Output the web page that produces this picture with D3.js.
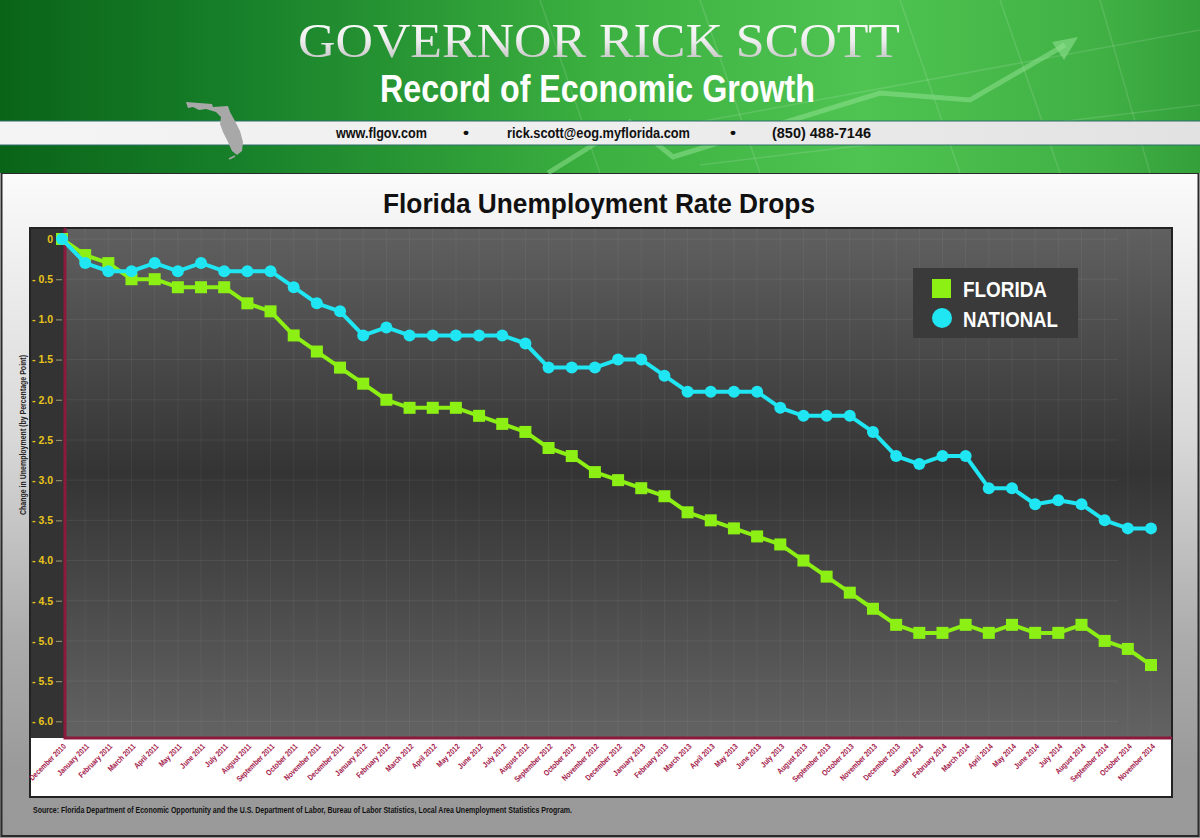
<!DOCTYPE html>
<html>
<head>
<meta charset="utf-8">
<script src="https://cdn.jsdelivr.net/npm/d3@7"></script>
<style>
  body { margin: 0; background: #fff; }
  svg { display: block; }
  .narrow { font-family: "Liberation Sans", Arial, sans-serif; font-weight: bold; }
</style>
</head>
<body>
<div id="chart"></div>
<script>
// month labels, Dec 2010 .. Nov 2014
const months = [
  "December 2010",
  "January 2011", "February 2011", "March 2011", "April 2011", "May 2011", "June 2011",
  "July 2011", "August 2011", "September 2011", "October 2011", "November 2011", "December 2011",
  "January 2012", "February 2012", "March 2012", "April 2012", "May 2012", "June 2012",
  "July 2012", "August 2012", "September 2012", "October 2012", "November 2012", "December 2012",
  "January 2013", "February 2013", "March 2013", "April 2013", "May 2013", "June 2013",
  "July 2013", "August 2013", "September 2013", "October 2013", "November 2013", "December 2013",
  "January 2014", "February 2014", "March 2014", "April 2014", "May 2014", "June 2014",
  "July 2014", "August 2014", "September 2014", "October 2014", "November 2014"
];

// change in unemployment rate since Dec 2010 (percentage points)
const florida = [
  0,
  -0.2, -0.3, -0.5, -0.5, -0.6, -0.6, -0.6, -0.8, -0.9, -1.2, -1.4, -1.6,
  -1.8, -2.0, -2.1, -2.1, -2.1, -2.2, -2.3, -2.4, -2.6, -2.7, -2.9, -3.0,
  -3.1, -3.2, -3.4, -3.5, -3.6, -3.7, -3.8, -4.0, -4.2, -4.4, -4.6, -4.8,
  -4.9, -4.9, -4.8, -4.9, -4.8, -4.9, -4.9, -4.8, -5.0, -5.1, -5.3
];

const national = [
  0,
  -0.3, -0.4, -0.4, -0.3, -0.4, -0.3, -0.4, -0.4, -0.4, -0.6, -0.8, -0.9,
  -1.2, -1.1, -1.2, -1.2, -1.2, -1.2, -1.2, -1.3, -1.6, -1.6, -1.6, -1.5,
  -1.5, -1.7, -1.9, -1.9, -1.9, -1.9, -2.1, -2.2, -2.2, -2.2, -2.4, -2.7,
  -2.8, -2.7, -2.7, -3.1, -3.1, -3.3, -3.25, -3.3, -3.5, -3.6, -3.6
];

const yTicks = [0, -0.5, -1.0, -1.5, -2.0, -2.5, -3.0, -3.5, -4.0, -4.5, -5.0, -5.5, -6.0];

const seriesNames = ["FLORIDA", "NATIONAL"];
const seriesColors = ["#8cf014", "#1fe6f2"];

const width = 1200, height = 838;

const svg = d3.select("#chart")
  .append("svg")
  .attr("width", width)
  .attr("height", height);

const defs = svg.append("defs");

function gradient(id, stops, vertical) {
  const g = defs.append("linearGradient")
    .attr("id", id)
    .attr("x1", 0).attr("y1", 0)
    .attr("x2", vertical ? 0 : 1).attr("y2", vertical ? 1 : 0);
  stops.forEach(s => g.append("stop").attr("offset", s[0]).attr("stop-color", s[1]));
}

// no condensed face installed, so squeeze text to the width it has in the picture
function fit(sel, len) {
  return sel.attr("textLength", len).attr("lengthAdjust", "spacingAndGlyphs");
}

gradient("headerGrad", [[0, "#0a6418"], [0.2, "#17802a"], [0.5, "#3cb040"], [0.72, "#4fc452"], [0.92, "#40b044"], [1, "#33a03a"]]);
gradient("bandGrad", [[0, "#f4f4f4"], [0.5, "#eeeeee"], [1, "#e2e2e2"]]);
gradient("pageGrad", [[0, "#fbfbfb"], [0.12, "#f0f0f0"], [0.4, "#d8d8d8"], [0.7, "#acacac"], [0.9, "#9a9a9a"], [1, "#999"]], true);
gradient("plotGrad", [[0, "#606060"], [0.48, "#343434"], [1, "#636363"]], true);
gradient("govGrad", [[0, "#ffffff"], [0.5, "#eeeeee"], [1, "#b5b5b5"]], true);

// ---- page background ----
svg.append("rect")
  .attr("x", 0).attr("y", 173)
  .attr("width", width).attr("height", height - 173)
  .attr("fill", "url(#pageGrad)");

svg.append("rect")
  .attr("x", 1.5).attr("y", 173)
  .attr("width", width - 3).attr("height", height - 175)
  .attr("fill", "none")
  .attr("stroke", "#2a2a2a")
  .attr("stroke-width", 2);

// ---- header ----
const header = svg.append("g");

header.append("rect")
  .attr("width", width).attr("height", 173)
  .attr("fill", "url(#headerGrad)");

// faint grid in header
const hLines = [
  [[540, 0], [600, 173]], [[700, 0], [760, 173]], [[900, 0], [960, 173]],
  [[1000, 0], [1060, 173]], [[1100, 0], [1150, 173]],
  [[600, 140], [1200, 30]], [[700, 165], [1200, 105]]
];
header.selectAll(".hgrid")
  .data(hLines)
  .enter()
  .append("line")
  .attr("class", "hgrid")
  .attr("x1", d => d[0][0]).attr("y1", d => d[0][1])
  .attr("x2", d => d[1][0]).attr("y2", d => d[1][1])
  .attr("stroke", "#ffffff")
  .attr("stroke-opacity", 0.12)
  .attr("stroke-width", 1.5);

// rising arrow
const arrowPts = [[548, 173], [630, 122], [673, 157], [880, 93], [970, 100], [1065, 45]];
header.append("path")
  .attr("d", d3.line()(arrowPts))
  .attr("fill", "none")
  .attr("stroke", "#8ee08e")
  .attr("stroke-opacity", 0.55)
  .attr("stroke-width", 5);
header.append("path")
  .attr("d", "M1078,37 L1052,42 L1064,60 Z")
  .attr("fill", "#8ee08e")
  .attr("fill-opacity", 0.6);

// contact band
header.append("rect")
  .attr("x", 0).attr("y", 121)
  .attr("width", width).attr("height", 24)
  .attr("fill", "url(#bandGrad)");
header.selectAll(".bandEdge")
  .data([121, 145])
  .enter()
  .append("line")
  .attr("x1", 0).attr("x2", width)
  .attr("y1", d => d).attr("y2", d => d)
  .attr("stroke", "#2c6e6a")
  .attr("stroke-width", 1.2);

// Florida silhouette
header.append("path")
  .attr("d", "M186,102 L212,104 L213,107 L228,106 L230,112 L235,121 L240,131 L243,142 L242,151 L237,155 L232,151 L228,142 L223,132 L220,124 L221,117 L216,112 L206,109 L199,110 L193,107 L188,108 Z")
  .attr("fill", "#a8a8a8");
header.append("path")
  .attr("d", "M235,156 L229,159")
  .attr("stroke", "#a8a8a8")
  .attr("stroke-width", 1.5);

fit(header.append("text")
  .attr("x", 298).attr("y", 57)
  .attr("font-family", "Liberation Serif, DejaVu Serif, serif")
  .attr("font-size", 48)
  .attr("fill", "url(#govGrad)")
  .text("GOVERNOR RICK SCOTT"), 602);

fit(header.append("text")
  .attr("class", "narrow")
  .attr("x", 380).attr("y", 102)
  .attr("font-size", 38)
  .attr("fill", "#ffffff")
  .text("Record of Economic Growth"), 435);

const contacts = [
  { x: 336, w: 91, t: "www.flgov.com" },
  { x: 463, w: 6, t: "•" },
  { x: 507, w: 183, t: "rick.scott@eog.myflorida.com" },
  { x: 730, w: 6, t: "•" },
  { x: 772, w: 99, t: "(850) 488-7146" }
];
header.selectAll(".contact")
  .data(contacts)
  .enter()
  .append("text")
  .attr("class", "narrow contact")
  .attr("x", d => d.x).attr("y", 138)
  .attr("font-size", 14)
  .attr("fill", "#111")
  .attr("textLength", d => d.w)
  .attr("lengthAdjust", "spacingAndGlyphs")
  .text(d => d.t);

// ---- chart title ----
fit(svg.append("text")
  .attr("class", "narrow")
  .attr("x", 383).attr("y", 213)
  .attr("font-size", 28)
  .attr("fill", "#111")
  .text("Florida Unemployment Rate Drops"), 432);

// ---- chart frame ----
const frame = { left: 30, right: 1172, top: 228, plotBottom: 738, bottom: 797, axisX: 65 };

svg.append("rect")
  .attr("x", frame.left).attr("y", frame.top)
  .attr("width", frame.right - frame.left).attr("height", frame.bottom - frame.top)
  .attr("fill", "#ffffff");

svg.append("rect")
  .attr("x", frame.left).attr("y", frame.top)
  .attr("width", frame.axisX - frame.left).attr("height", frame.plotBottom - frame.top)
  .attr("fill", "#333333");

svg.append("rect")
  .attr("x", frame.axisX).attr("y", frame.top)
  .attr("width", frame.right - frame.axisX).attr("height", frame.plotBottom - frame.top)
  .attr("fill", "url(#plotGrad)");

svg.append("rect")
  .attr("x", frame.left).attr("y", frame.top)
  .attr("width", frame.right - frame.left).attr("height", frame.bottom - frame.top)
  .attr("fill", "none")
  .attr("stroke", "#222")
  .attr("stroke-width", 2);

// scales
const x = d3.scalePoint()
  .domain(months)
  .range([62, 1151]);

const y = d3.scaleLinear()
  .domain([0, -6])
  .range([239, 721.3]);

// grid
const grid = svg.append("g").attr("class", "grid");
grid.selectAll(".vgrid")
  .data(months.slice(1))
  .enter()
  .append("line")
  .attr("x1", d => x(d)).attr("x2", d => x(d))
  .attr("y1", frame.top).attr("y2", frame.plotBottom)
  .attr("stroke", "#ffffff")
  .attr("stroke-opacity", 0.05);
grid.selectAll(".hgrid")
  .data(yTicks)
  .enter()
  .append("line")
  .attr("x1", frame.axisX).attr("x2", 1118)
  .attr("y1", d => y(d)).attr("y2", d => y(d))
  .attr("stroke", "#ffffff")
  .attr("stroke-opacity", 0.07);

// y axis
const yAxis = svg.append("g")
  .attr("transform", "translate(62,0)")
  .call(d3.axisLeft(y)
    .tickValues(yTicks)
    .tickSize(6)
    .tickPadding(3)
    .tickFormat(d => d === 0 ? "0" : "- " + Math.abs(d).toFixed(1)));
yAxis.select(".domain").remove();
yAxis.selectAll(".tick line").attr("stroke", "#8f8a6a").attr("stroke-width", 1.2);
yAxis.selectAll(".tick text")
  .attr("fill", "#e8c41c")
  .attr("font-family", "Liberation Sans, Arial, sans-serif")
  .attr("font-weight", "bold")
  .attr("font-size", 10.5);

fit(svg.append("text")
  .attr("class", "narrow")
  .attr("transform", "translate(26,515) rotate(-90)")
  .attr("font-size", 9)
  .attr("fill", "#222")
  .text("Change in Unemployment (by Percentage Point)"), 160);

// axis lines (crimson)
svg.append("path")
  .attr("d", `M${frame.axisX},${frame.top} V${frame.plotBottom} H${frame.right}`)
  .attr("fill", "none")
  .attr("stroke", "#8c1a3e")
  .attr("stroke-width", 3);

// x axis labels
const xAxis = svg.append("g")
  .attr("transform", `translate(0,${frame.plotBottom})`)
  .call(d3.axisBottom(x).tickSize(0));
xAxis.select(".domain").remove();
xAxis.selectAll(".tick text")
  .attr("y", 0).attr("dy", 0)
  .attr("text-anchor", "end")
  .attr("transform", "translate(4,9) rotate(-45)")
  .attr("fill", "#a3184a")
  .attr("font-family", "Liberation Sans, Arial, sans-serif")
  .attr("font-weight", "bold")
  .attr("font-size", 8)
  .each(function() {
    const len = this.getComputedTextLength();
    d3.select(this).attr("textLength", len * 0.82).attr("lengthAdjust", "spacingAndGlyphs");
  });

// series
const series = [florida, national];
const line = d3.line()
  .x((d, i) => x(months[i]))
  .y(d => y(d));

series.forEach((values, s) => {
  svg.append("path")
    .datum(values)
    .attr("d", line)
    .attr("fill", "none")
    .attr("stroke", seriesColors[s])
    .attr("stroke-width", 4)
    .attr("stroke-linejoin", "round");

  if (s === 0) {
    svg.selectAll(".sq")
      .data(values)
      .enter()
      .append("rect")
      .attr("class", "sq")
      .attr("x", (d, i) => x(months[i]) - 6)
      .attr("y", d => y(d) - 6)
      .attr("width", 12).attr("height", 12)
      .attr("fill", seriesColors[s]);
  } else {
    svg.selectAll(".dot")
      .data(values)
      .enter()
      .append("circle")
      .attr("class", "dot")
      .attr("cx", (d, i) => x(months[i]))
      .attr("cy", d => y(d))
      .attr("r", 6)
      .attr("fill", seriesColors[s]);
  }
});

// legend
const legend = svg.append("g").attr("transform", "translate(913,268)");
legend.append("rect")
  .attr("width", 165).attr("height", 70)
  .attr("fill", "#3a3a3a");
legend.append("rect")
  .attr("x", 19).attr("y", 11)
  .attr("width", 19).attr("height", 19)
  .attr("fill", seriesColors[0]);
legend.append("circle")
  .attr("cx", 29).attr("cy", 50).attr("r", 10)
  .attr("fill", seriesColors[1]);
legend.selectAll(".ltext")
  .data(seriesNames)
  .enter()
  .append("text")
  .attr("class", "narrow ltext")
  .attr("x", 50)
  .attr("y", (d, i) => 29 + i * 30)
  .attr("font-size", 22)
  .attr("fill", "#ffffff")
  .attr("textLength", (d, i) => [84, 95][i])
  .attr("lengthAdjust", "spacingAndGlyphs")
  .text(d => d);

// source note
fit(svg.append("text")
  .attr("class", "narrow")
  .attr("x", 33).attr("y", 813)
  .attr("font-size", 9.5)
  .attr("fill", "#111")
  .text("Source: Florida Department of Economic Opportunity and the U.S. Department of Labor, Bureau of Labor Statistics, Local Area Unemployment Statistics Program."), 539);
</script>
</body>
</html>
